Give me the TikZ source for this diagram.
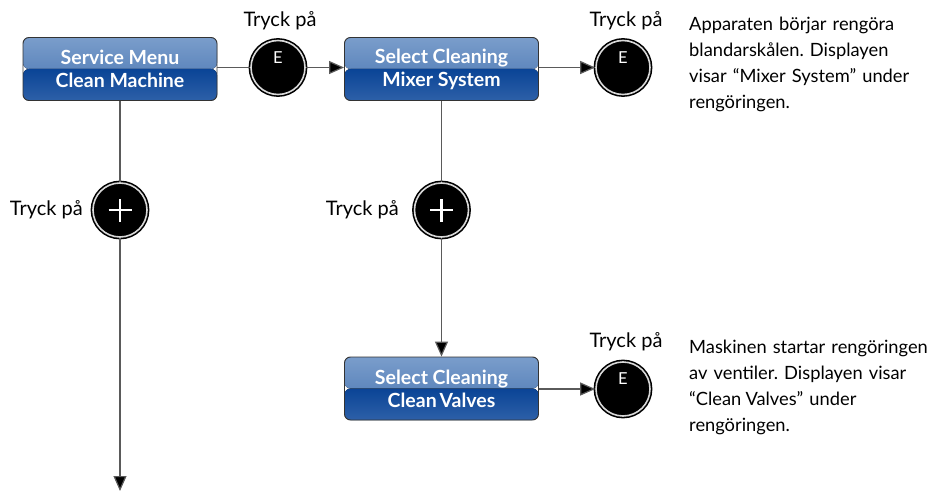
\documentclass[tikz,border=0pt]{standalone}
\usepackage{fontspec}
\setmainfont{Lato}
\frenchspacing
\usetikzlibrary{arrows.meta}
\definecolor{btop}{HTML}{7A9DCB}
\definecolor{bmid}{HTML}{4472B0}
\definecolor{bdark}{HTML}{0A4496}
\definecolor{bbot}{HTML}{2D60A8}
\definecolor{lnc}{HTML}{5A5A5A}
\tikzset{
  menubox/.style={draw=black!80, line width=0.9pt, rounded corners=6pt,
    minimum width=194pt, minimum height=63pt, inner sep=0pt,
    align=center, text=white, font=\fontsize{19.5}{23}\selectfont\bfseries,
    path picture={
      \fill[top color=btop,bottom color=bmid] (path picture bounding box.north west) rectangle (path picture bounding box.east);
      \fill[top color=bdark,bottom color=bbot] (path picture bounding box.west) rectangle (path picture bounding box.south east);
    }},
  keybtn/.style={circle, fill=black, draw=black, line width=1.6pt, double=white!85!black,
    double distance=1.6pt, minimum size=54pt, inner sep=0pt},
  lbl/.style={font=\fontsize{20}{22}\selectfont, inner sep=0pt},
  desc/.style={font=\fontsize{18.3}{26}\selectfont, align=left, text width=265pt, inner sep=0pt, anchor=north west},
  conn/.style={draw=lnc, line width=1.2pt},
  arr/.style={conn, -{Triangle[length=15pt,width=13pt,fill=black]}}
}
\begin{document}
\begin{tikzpicture}[x=1pt,y=-1pt]
\useasboundingbox (0,0) rectangle (945,492);
\node[menubox] (b1) at (120,69) {Service Menu\\Clean Machine};
\node[menubox] (b2) at (441.5,69) {Select Cleaning\\Mixer System};
\node[menubox] (b3) at (441.5,388.5) {Select Cleaning\\Clean\hspace{-2pt} Valves};
\node[keybtn] (e1) at (278,67.5) {};
\node[keybtn] (e2) at (623,67.5) {};
\node[keybtn] (e3) at (623,389) {};
\node[keybtn] (p1) at (120,210) {};
\node[keybtn] (p2) at (441.5,210) {};
\foreach \n in {e1,e2,e3}{
  \node[text=white, font=\fontsize{16.5}{17}\selectfont, inner sep=0pt] (\n txt) at ([yshift=10pt]\n.center) {E};
}
\foreach \n in {p1,p2}{
  \draw[white, line width=2.2pt] ([xshift=-11.5pt]\n.center) -- ([xshift=11.5pt]\n.center);
  \draw[white, line width=2.2pt] ([yshift=-11.5pt]\n.center) -- ([yshift=11.5pt]\n.center);
}
\node[lbl] (t1) at (280,21) {Tryck på};
\node[lbl] (t2) at (626,21) {Tryck på};
\node[lbl] (t3) at (626,342) {Tryck på};
\node[lbl, anchor=east] (t4) at (83,210) {Tryck på};
\node[lbl, anchor=east] (t5) at (399,210) {Tryck på};
\node[desc] (d1) at (689,17) {Apparaten börjar rengöra\\blandarskålen. Displayen\\visar “Mixer System” under\\rengöringen.};
\node[desc] (d2) at (689,340) {Maskinen startar rengöringen\\av ventiler. Displayen visar\\“Clean\hspace{-2pt} Valves” under\\rengöringen.};
\coordinate (end) at (120,491);
\draw[conn] (b1.east |- e1.west) -- (e1.west);
\draw[arr] (e1.east) -- (b2.west |- e1.east);
\draw[arr] (b2.east |- e2.west) -- (e2.west);
\draw[arr] (b3.east |- e3.west) -- (e3.west);
\draw[conn] (b1.south) -- (p1.north);
\draw[arr] (p1.south) -- (end);
\draw[conn] (b2.south) -- (p2.north);
\draw[arr] (p2.south) -- (b3.north);
\end{tikzpicture}
\end{document}
